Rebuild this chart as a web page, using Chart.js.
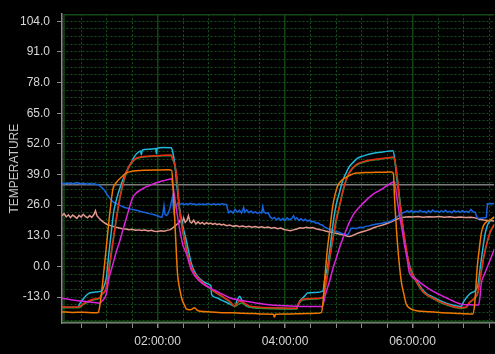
<!DOCTYPE html>
<html><head><meta charset="utf-8">
<script src="https://cdn.jsdelivr.net/npm/chart.js@4/dist/chart.umd.min.js"></script>
<style>html,body{margin:0;padding:0;background:#000;overflow:hidden}</style>
</head><body>
<canvas id="c" width="495" height="354"></canvas>
<script>
// time in minutes since 00:00:00, temperature values
const xMin = 30, xMax = 437;
const yMin = -24, yMax = 107;
const yLabelValues = [-13, 0, 13, 26, 39, 52, 65, 78, 91, 104];
const xLabelTimes = [120, 240, 360];
const xLabelTexts = ['02:00:00', '04:00:00', '06:00:00'];
const limitValue = 34.7;

const cyan = [[30,-17.3],[45,-17.3],[46.6,-15.9],[50,-13.8],[53,-12.2],[56,-11.3],[61,-10.9],[67,-10.5],[69,-9.0],[71.7,-4.9],[74,5],[76.4,14.7],[79,24],[82.4,30.2],[85.8,35],[88.9,38.6],[92,41.5],[95.2,44],[98,46.5],[101.2,48.2],[104,49.0],[104.7,47.4],[105.5,49.2],[107.8,49.6],[115,49.8],[118.3,50.0],[118.8,47.8],[119.5,50.1],[126,50.4],[132.9,50.3],[134.5,48],[136,44],[138,35],[140.7,24.5],[143.8,17],[147,11],[151.7,1.4],[156.4,-3.5],[162.6,-6.3],[168.9,-7.7],[170.3,-8.5],[170.8,-11.9],[175,-13.2],[180,-14.3],[186,-15.5],[192.5,-16.8],[195,-14.3],[197.2,-12.6],[199,-14],[201.9,-16.2],[206,-17.2],[220,-17.5],[240,-17.8],[251,-17.9],[251.8,-16.8],[254,-14.5],[258,-12.8],[261.2,-11.3],[268,-11.1],[275.6,-10.5],[277.2,-6],[280.3,0.7],[283,10],[285,17.5],[288,26],[291.3,31.5],[294,36],[297.6,39.8],[300.7,42.5],[303.8,44],[308,45.8],[313.2,46.8],[319,47.6],[325.8,48.2],[333,48.6],[341.5,49.1],[343.1,46.1],[345,38],[347.8,28.7],[350,20],[352.5,10.5],[355,4.5],[357.2,0.5],[360,-3],[363.5,-5.8],[366.6,-8],[369.7,-10],[374,-11.8],[379.1,-12.9],[385,-14.3],[391.7,-15.6],[398,-16.4],[405.8,-17.0],[408,-15],[412,-12.5],[415.2,-11.2],[418.4,-10.5],[421.5,-8],[423,-3],[426,7],[428,13],[431,18],[437.2,21]];

const red = [[30,-17.2],[40,-17.3],[46.6,-17.0],[50,-15.8],[55,-14.6],[60,-13.8],[65.4,-13.2],[68,-11.5],[71.7,-9],[74,-1],[77.9,10.5],[81,20],[84.2,28.6],[87,34.5],[90.5,39.8],[93.5,42.8],[96.8,44.8],[100,46],[104.7,46.5],[112,46.8],[120,47],[126,47.2],[132.9,47.3],[134,46],[137.6,39.8],[140.7,24],[143.8,15],[147,7],[151.7,0],[155,-3.3],[159.5,-5.6],[164,-7.5],[168.9,-9],[173,-10.5],[178.4,-11.9],[183,-13.3],[187.8,-14.7],[192.5,-16.8],[194,-16.2],[197.2,-14.7],[199,-14.9],[203,-15.9],[206.6,-16.8],[213,-17.2],[220.7,-17.4],[235,-17.6],[251,-17.7],[251.8,-16.5],[254,-14.8],[256.8,-13.8],[265,-13.6],[275,-13.2],[276.5,-12],[278.8,-6.3],[282,4],[285,11.9],[288,20],[291.3,25.9],[294,31.5],[297.6,37],[300.7,40],[303.8,41.9],[308,43.5],[316.4,44.8],[328.9,45.7],[337,46.1],[341.5,46.4],[343.1,45.5],[346.2,35.7],[348,27],[350.9,17],[354,8],[357.2,0],[360,-3.3],[363.5,-6.3],[366.6,-8.5],[369.7,-10.5],[374,-12.2],[379.1,-13.3],[385,-14.8],[391.7,-16],[398,-17],[405.8,-17.5],[410.6,-17.2],[413,-15.5],[418.4,-13.3],[421.5,-11],[424,-4],[427,4],[430,10],[433,14.5],[437.2,18]];

const green = [[30,-17.5],[46,-17.5],[50,-16.2],[60,-14.2],[65.4,-13.6],[68,-11.8],[71.7,-9.3],[77.9,10],[84.2,28.2],[90.5,39.5],[96.8,44.6],[104.7,46.3],[120,46.8],[132.9,47.1],[134,45.8],[137.6,39.5],[140.7,23.6],[143.8,14.6],[147,8.2],[151.7,-0.3],[159.5,-5.9],[168.9,-9.3],[178.4,-12.2],[187.8,-15.0],[192.5,-17.0],[198.8,-15.5],[206.6,-17.2],[220.7,-17.8],[251,-18.1],[251.8,-17.0],[256.8,-14.2],[275,-13.5],[276.5,-12.3],[278.8,-6.6],[285,11.5],[291.3,25.5],[297.6,36.6],[303.8,41.6],[316.4,44.5],[328.9,45.4],[341.5,46.1],[343.1,45.2],[346.2,35.4],[350.9,16.7],[357.2,-0.3],[363.5,-6.6],[369.7,-10.8],[379.1,-13.6],[391.7,-16.3],[405.8,-17.8],[410.6,-17.5],[413,-15.8],[418.4,-13.6],[421.5,-11.3],[424,-4.3],[427,3.7],[430,9.7],[433,14.2],[437.2,17.7]];

const orange = [[30,-19.3],[40,-19.5],[50,-19.4],[60,-19.6],[64,-19.5],[65.5,-17],[68,-8],[71,5],[74.8,21.8],[77.9,32.7],[81,35.5],[85.8,37.8],[90,39.5],[95.2,40.3],[100,40.6],[110,40.8],[120,40.9],[130,41],[133.2,40.7],[135,30],[137,12],[138.8,-3.3],[141,-10],[143,-14],[145.4,-16.5],[147,-18],[150,-18.4],[152,-18.2],[154.8,-17.5],[157,-18.5],[160,-19],[170,-19.3],[180,-19.6],[190,-19.7],[200,-19.9],[210,-20],[220,-20.2],[229,-20.3],[230,-21.5],[231,-20.3],[240,-20.2],[250,-20.1],[260,-20],[270,-19.9],[274.1,-19.6],[276,-14],[277.2,-6.3],[280,8],[281.9,14.7],[285,25.9],[289.7,34.3],[294,36.8],[297.6,37.8],[302,38.9],[307,39.6],[315,39.8],[325,39.9],[335,40],[340,40.1],[342,39.5],[343.1,28.7],[346.2,7.7],[349.4,-6.3],[352,-12],[354.1,-16],[358.8,-18.1],[365,-18.9],[375,-19.2],[385,-19.5],[395,-19.8],[405,-20],[416.7,-20.2],[418.5,-16],[421,0],[423,8],[425,14.7],[427,17.5],[430,19],[434,20],[437.2,21]];

const magenta = [[30,-13.5],[40,-14.2],[50,-14.8],[60,-15.3],[65.4,-15.6],[67,-15.0],[71.7,-11.7],[74,-5.5],[77.9,0.9],[81,6],[84.2,10.5],[87,15],[90.5,20.3],[93.5,25],[96.8,29.4],[100,31.2],[103.1,32.2],[108,33.5],[112.5,34.3],[117,35.2],[121.9,35.9],[127,36.5],[131.3,37],[133,37.2],[134.5,34],[137.6,24.5],[140.7,16],[143.8,9],[147,5.6],[151.7,-1.4],[159.5,-6.3],[168.9,-9],[178.4,-11.2],[187.8,-13.3],[201.9,-14.7],[220.7,-16],[240,-16.7],[260,-17],[275,-17],[276.5,-15],[278,-12],[281.9,-6.3],[285,-1],[288.2,3.5],[291.3,8],[294.4,11.9],[297.6,15.5],[300.7,18.9],[305,22.5],[310.1,25.2],[315,27.5],[319.5,29.4],[324,31],[328.9,32.2],[335,34],[341.5,35.7],[343,35.8],[345,30],[347.8,21.7],[350,16],[352.5,9],[355,3],[357.2,-2.8],[363.5,-5.5],[369.7,-7.7],[379.1,-10.5],[391.7,-13.3],[405.8,-16],[414,-16.3],[422,-16.4],[423.5,-13],[424.6,-7.6],[428,-3],[432.5,2.1],[437.2,7.5]];

const blue = [[30,35.2],[32,35.0],[34,35.4],[36,35.1],[38,35.5],[40,35.0],[42,35.3],[44,35.6],[46,35.2],[48,35.0],[50,35.3],[52,35.1],[54,34.9],[56,35.2],[58,35.0],[60,35.1],[62,34.9],[64,34.8],[66,34.0],[68,33.2],[70,32.3],[72,30.8],[74,29.5],[76,28.3],[78,27.4],[80,26.9],[83,26.2],[86,25.6],[89,25.0],[92,24.7],[95,24.3],[98,24.0],[101,23.7],[104,23.3],[107,23.0],[110,22.7],[113,22.3],[116,22.0],[119,21.6],[122,21.1],[124,20.8],[125,22.5],[126,25.8],[127,22.0],[128.5,21.6],[130,22.5],[131.5,24.5],[133,27.5],[134,29.4],[135,24.0],[136,27.5],[137.5,25.0],[139,27.0],[141,26.4],[143,26.7],[145,26.2],[147,26.6],[149,26.3],[151,26.8],[153,26.4],[155,26.5],[157,26.1],[159,26.6],[161,26.3],[163,26.5],[165,26.2],[167,26.7],[169,26.4],[171,26.3],[173,26.6],[175,26.2],[177,26.5],[179,26.3],[181,26.6],[183,26.4],[185,26.2],[186,24.0],[187,22.8],[189,23.5],[191,22.6],[193,24.2],[195,23.0],[197,23.8],[199,22.7],[201,25.0],[202,23.0],[204,24.0],[206,22.8],[208,23.5],[210,22.6],[212,23.2],[214,22.5],[216,23.0],[218,22.7],[219,25.3],[220,23.2],[222,22.5],[224,22.8],[226,21.0],[228,20.2],[230,20.8],[232,19.8],[234,20.5],[236,19.6],[238,20.3],[240,19.5],[242,20.6],[244,19.8],[246,20.2],[248,21.5],[249.5,20.0],[251,20.6],[253,19.5],[255,20.2],[257,19.4],[259,20.0],[261,19.2],[263,19.6],[265,18.9],[267,19.1],[269,18.3],[271,18.5],[273,17.8],[275,17.6],[277,16.8],[279,16.3],[281,15.8],[283,15.5],[285,15.2],[287,15.0],[289,14.7],[291,14.5],[293,14.1],[295,13.8],[297,13.6],[299,13.4],[300.5,14.6],[302,16.1],[304,16.3],[307,16.0],[310,16.6],[313,16.4],[316,17.0],[319,17.2],[322,17.6],[325,17.9],[328,18.1],[331,18.3],[334,18.6],[337,18.9],[340,19.4],[343,20.0],[345,20.8],[347,21.6],[349,22.0],[351,22.8],[353,23.1],[355,23.6],[357,23.0],[359,23.7],[361,22.9],[363,23.5],[365,23.0],[367,23.8],[369,23.1],[371,23.4],[373,22.8],[375,23.6],[377,23.0],[379,23.9],[381,23.2],[383,23.5],[385,22.9],[387,23.6],[389,23.1],[391,23.8],[393,23.0],[395,23.4],[397,22.8],[399,23.7],[401,23.1],[403,23.5],[405,22.9],[407,23.6],[409,23.0],[411,23.4],[413,23.0],[415,24.2],[417,23.2],[419,23.0],[420.5,21.0],[422,20.3],[424,20.4],[426,20.5],[428,20.6],[429.5,20.8],[430.5,26.6],[432,26.5],[434,26.7],[437,26.6]];

const pink = [[30,21.5],[32,22.4],[34,21.0],[36,21.9],[38,20.7],[40,21.8],[42,21.1],[44,20.4],[46,21.7],[48,20.9],[50,22.1],[52,21.2],[54,20.6],[56,21.6],[58,20.8],[60,22.0],[61.5,23.6],[63,21.4],[65,20.4],[67,19.5],[69,18.8],[72,17.9],[75,17.4],[78,17.0],[81,16.6],[84,16.3],[87,16.0],[90,15.9],[93,15.6],[96,15.8],[99,15.4],[102,15.5],[105,15.2],[108,15.4],[111,15.0],[114,15.3],[117,14.9],[120,14.8],[123,15.1],[126,14.9],[129,15.3],[132,15.6],[134,16.2],[136,17.0],[138,17.8],[140,18.5],[141.5,19.8],[143,18.2],[144.5,20.6],[146,18.7],[147.5,19.4],[149,21.5],[150.5,18.9],[152,18.4],[154,19.6],[156,18.0],[158,18.9],[160,18.1],[162,18.7],[164,17.9],[166,18.6],[168,18.0],[170,18.4],[172,17.8],[174,18.3],[176,17.7],[178,18.1],[180,17.6],[182,17.9],[185,17.3],[188,17.6],[191,17.0],[194,17.3],[197,16.8],[200,17.1],[203,16.7],[206,17.0],[209,16.6],[212,16.9],[215,16.5],[218,16.8],[221,16.4],[224,16.7],[227,16.2],[230,16.5],[233,16.0],[236,16.3],[239,15.7],[242,15.4],[245,15.1],[248,15.5],[251,15.9],[254,16.4],[257,16.2],[260,16.6],[263,16.3],[266,16.5],[269,16.0],[272,15.7],[275,15.4],[278,15.0],[281,14.7],[284,14.5],[287,14.2],[290,13.9],[293,13.5],[296,13.2],[299,12.8],[301,12.7],[303,13.0],[306,13.6],[309,14.2],[312,14.6],[316,15.1],[320,15.8],[324,16.5],[328,17.1],[332,17.6],[336,18.2],[340,18.9],[344,19.8],[348,20.5],[352,20.9],[356,21.1],[360,21.0],[365,21.2],[370,20.9],[375,21.1],[380,21.0],[385,21.2],[390,20.9],[395,21.1],[400,20.8],[405,21.0],[410,20.8],[415,20.9],[419,20.6],[423,20.0],[427,19.7],[431,19.5],[437,19.3]];

function pts(a){ return a.map(p => ({x: p[0], y: p[1]})); }
const isYLabel = v => yLabelValues.some(l => Math.abs(l - v) < 1e-6);
const isXLabel = v => xLabelTimes.some(l => Math.abs(l - v) < 1e-6);

// minor grid every quarter of a labelled step (y) and every 24 min (x)
const yGrid = []; for (let k = -3; k <= 36; k++) yGrid.push(-13 + 3.25 * k);
const xGrid = []; for (let k = 2; k <= 18; k++) xGrid.push(24 * k);

const frame = {
  id: 'frame',
  beforeDraw(chart) {
    const c = chart.ctx; c.save(); c.fillStyle = '#000'; c.fillRect(0, 0, chart.width, chart.height); c.restore();
  },
  beforeDatasetsDraw(chart) {
    const {ctx, chartArea: a} = chart;
    ctx.save(); ctx.strokeStyle = '#154a15'; ctx.lineWidth = 1.5;
    ctx.beginPath();
    ctx.moveTo(a.left + 2, a.bottom - 1); ctx.lineTo(a.left + 2, a.top + 0.5); ctx.lineTo(a.right, a.top + 0.5);
    ctx.moveTo(a.left, a.bottom - 1.5); ctx.lineTo(a.right, a.bottom - 1.5);
    ctx.stroke(); ctx.restore();
  }
};

const ds = (label, data, color, order, smooth) => ({
  label, data: pts(data), borderColor: color, borderWidth: 1.5, pointRadius: 0,
  fill: false, order, tension: 0, cubicInterpolationMode: smooth ? 'monotone' : 'default'
});

new Chart(document.getElementById('c'), {
  type: 'line',
  data: { datasets: [
    ds('orange', orange, '#f07800', 1, true),
    ds('magenta', magenta, '#dc22dc', 2, true),
    ds('red', red, '#ea2a12', 3, true),
    ds('green', green, '#22963a', 4, true),
    ds('cyan', cyan, '#20b8da', 5, true),
    ds('blue', blue, '#1664e0', 6, false),
    ds('pink', pink, '#e2988c', 7, false),
    ds('limit', [[xMin, limitValue], [xMax, limitValue]], '#7c7c7c', 8, false)
  ]},
  options: {
    responsive: false, animation: false, devicePixelRatio: 1,
    layout: { padding: { top: 10, right: 0, left: 0, bottom: 0 } },
    plugins: { legend: { display: false }, tooltip: { enabled: false } },
    scales: {
      x: {
        type: 'linear', min: xMin, max: xMax,
        afterBuildTicks: s => { s.ticks = xGrid.map(v => ({value: v})); },
        afterFit: s => { s.height = 31; },
        ticks: {
          autoSkip: false, maxRotation: 0, padding: 6, color: '#d8d8d8',
          font: { family: 'Liberation Sans, Arial, sans-serif', size: 12 },
          callback: v => { const i = xLabelTimes.findIndex(t => Math.abs(t - v) < 1e-6); return i >= 0 ? xLabelTexts[i] : ''; }
        },
        grid: {
          color: c => (c.tick && isXLabel(c.tick.value)) ? '#134513' : '#14501a',
          lineWidth: c => (c.tick && isXLabel(c.tick.value)) ? 1.5 : 1,
          tickLength: 5, tickColor: '#8c8c8c'
        },
        border: { display: true, color: '#8c8c8c', width: 1.5,
          dash: c => (c.tick && !isXLabel(c.tick.value)) ? [2, 2] : [] }
      },
      y: {
        type: 'linear', min: yMin, max: yMax,
        afterBuildTicks: s => { s.ticks = yGrid.map(v => ({value: v})); },
        afterFit: s => { s.width = 62; },
        ticks: {
          autoSkip: false, padding: 7, color: '#d8d8d8',
          font: { family: 'Liberation Sans, Arial, sans-serif', size: 12 },
          callback: v => isYLabel(v) ? v.toFixed(1) : ''
        },
        grid: {
          color: '#14501a', lineWidth: 1, tickLength: 5,
          tickColor: c => (c.tick && isYLabel(c.tick.value)) ? '#8c8c8c' : 'rgba(0,0,0,0)'
        },
        border: { display: true, color: '#8c8c8c', width: 1.5, dash: c => c.tick ? [2, 2] : [] },
        title: { display: true, text: 'TEMPERATURE', color: '#c8c8c8',
          font: { family: 'Liberation Sans, Arial, sans-serif', size: 12 }, padding: { top: 7, bottom: 0 } }
      }
    }
  },
  plugins: [frame]
});
</script>
</body></html>
